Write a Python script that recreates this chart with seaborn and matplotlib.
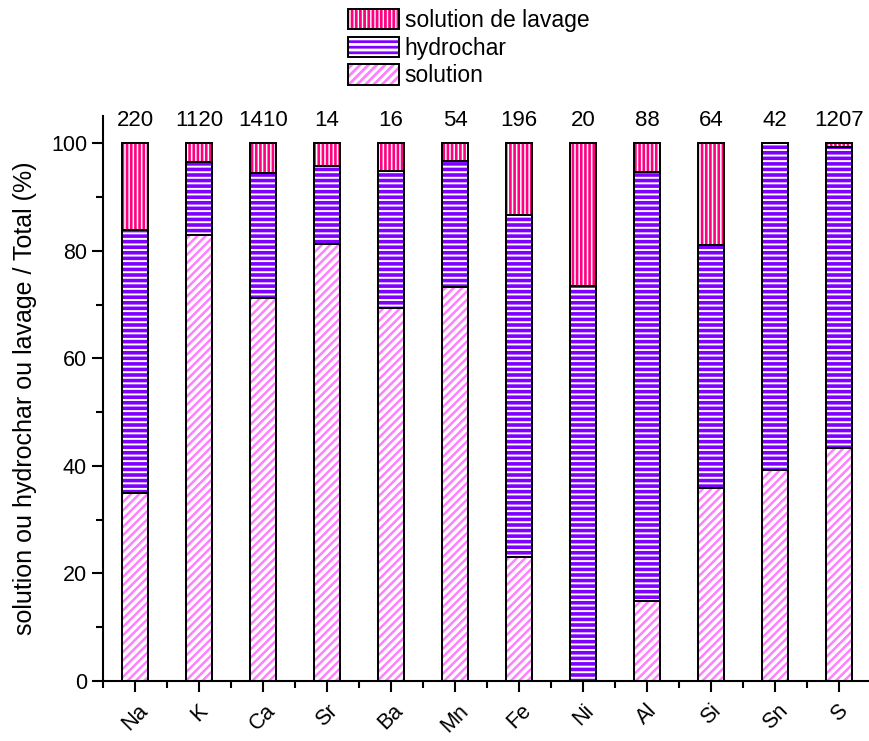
import numpy as np
import pandas as pd
import matplotlib
matplotlib.use("Agg")
import matplotlib.pyplot as plt
import seaborn as sns
from matplotlib.patches import Patch

# values (percent of total)
elements = ["Na", "K", "Ca", "Sr", "Ba", "Mn", "Fe", "Ni", "Al", "Si", "Sn", "S"]
solution = [34.9, 82.9, 71.3, 81.2, 69.4, 73.2, 23.1, 0.0, 14.8, 35.8, 39.2, 43.3]
hydrochar = [48.9, 13.7, 23.1, 14.6, 25.4, 23.5, 63.6, 73.5, 79.9, 45.3, 60.8, 56.0]
totals = ["220", "1120", "1410", "14", "16", "54", "196", "20", "88", "64", "42", "1207"]

df = pd.DataFrame({"element": elements, "solution": solution, "hydrochar": hydrochar})
df["lavage"] = 100 - df["solution"] - df["hydrochar"]
df["top_hydrochar"] = df["solution"] + df["hydrochar"]
df["top_lavage"] = df["top_hydrochar"] + df["lavage"]

c_lavage = "#FF0080"
c_hydro = "#8000FF"
c_sol = "#FF80FF"

sns.set_style("ticks")
plt.rcParams["font.family"] = ["Liberation Sans", "DejaVu Sans"]
plt.rcParams["hatch.linewidth"] = 2.0
for k in ["text.color", "axes.labelcolor", "xtick.color", "ytick.color", "axes.edgecolor"]:
    plt.rcParams[k] = "black"

fig = plt.figure(figsize=(8.69, 7.41), dpi=100)
ax = fig.add_axes([0.1185, 0.081, 0.884, 0.762])

# (column, colour, hatch, hatch width)
layers = [("top_lavage", c_lavage, "||||", 1.9),
          ("top_hydrochar", c_hydro, "---", 2.6),
          ("solution", c_sol, "////", 1.8)]


def style_hatch(p, color, hatch, hw):
    p.set_facecolor("white")
    p.set_edgecolor(color)
    p.set_hatch(hatch)
    p.set_linewidth(0)
    if hasattr(p, "set_hatch_linewidth"):
        p.set_hatch_linewidth(hw)


# hatched fills, drawn from the tallest stack down
for col, color, hatch, hw in layers:
    n = len(ax.patches)
    sns.barplot(data=df, x="element", y=col, color="white", saturation=1,
                width=0.4, errorbar=None, ax=ax)
    for p in ax.patches[n:]:
        style_hatch(p, color, hatch, hw)

# black outlines on top
for col, color, hatch, hw in layers:
    n = len(ax.patches)
    sns.barplot(data=df, x="element", y=col, color="black", fill=False,
                width=0.4, errorbar=None, ax=ax)
    for p in ax.patches[n:]:
        p.set_facecolor("none")
        p.set_edgecolor("black")
        p.set_linewidth(1.4)
        p.set_hatch(None)

for i, t in enumerate(totals):
    ax.text(i, 102.2, t, ha="center", va="bottom", fontsize=16)

ax.set_xlim(-0.5, 11.5)
ax.set_ylim(0, 105)
ax.set_yticks([0, 20, 40, 60, 80, 100])
ax.set_yticks(np.arange(10, 100, 20), minor=True)
ax.set_xticks(np.arange(-0.5, 12, 1), minor=True)
ax.set_xlabel("")
ax.set_ylabel("solution ou hydrochar ou lavage / Total (%)", fontsize=18, labelpad=10)
ax.tick_params(axis="both", which="major", direction="out", length=8, width=1.5, labelsize=15.5)
ax.tick_params(axis="both", which="minor", direction="out", length=5, width=1.5)
ax.tick_params(axis="x", which="major", pad=6)
for lab in ax.get_xticklabels():
    lab.set_rotation(45)
    lab.set_ha("center")
sns.despine(ax=ax)
for s in ["left", "bottom"]:
    ax.spines[s].set_linewidth(1.5)

handles = []
for col, color, hatch, hw in layers:
    h1 = Patch(facecolor="white", edgecolor=color, hatch=hatch, linewidth=0)
    if hasattr(h1, "set_hatch_linewidth"):
        h1.set_hatch_linewidth(hw)
    h2 = Patch(facecolor="none", edgecolor="black", linewidth=1.4)
    handles.append((h1, h2))
fig.legend(handles, ["solution de lavage", "hydrochar", "solution"],
           loc="upper left", bbox_to_anchor=(0.401, 0.988), frameon=False,
           fontsize=16.5, handlelength=2.2, handleheight=1.0, labelspacing=0.2,
           handletextpad=0.25, borderpad=0, borderaxespad=0)

fig.savefig("out.png", dpi=100)
